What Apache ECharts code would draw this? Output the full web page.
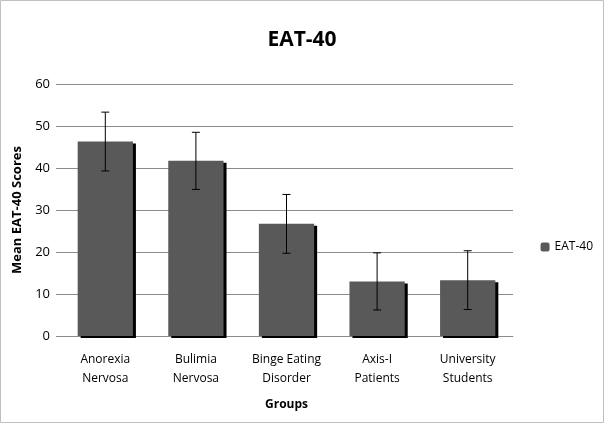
<!DOCTYPE html>
<html><head><meta charset="utf-8">
<script src="https://cdn.jsdelivr.net/npm/echarts@6/dist/echarts.min.js"></script>
<style>html,body{margin:0;padding:0;background:#fff}#c{width:604px;height:423px}</style>
</head><body><div id="c"></div>
<script>
const categories = ['Anorexia\nNervosa','Bulimia\nNervosa','Binge Eating\nDisorder','Axis-I\nPatients','University\nStudents'];
const means = [46.3, 41.7, 26.7, 13.0, 13.3];
const errors = [7.0, 6.8, 7.0, 6.8, 7.0];
const yTicks = [0, 10, 20, 30, 40, 50, 60];

const chart = echarts.init(document.getElementById('c'), null, {renderer:'canvas'});
const font = '"Open Sans", "Liberation Sans", sans-serif';
chart.setOption({
  animation:false,
  graphic:[{type:'rect', shape:{x:0.5,y:0.5,width:603,height:422}, style:{fill:'none', stroke:'#bfbfbf', lineWidth:1}}],
  title:{text:'EAT-40', left:'center', top:25, textStyle:{fontFamily:font, fontSize:21, fontWeight:'bold', color:'#000'}},
  legend:{right:6, top:236, orient:'vertical', itemWidth:9, itemHeight:9, itemGap:0,
    textStyle:{fontFamily:font, fontSize:12, color:'#000'}, data:['EAT-40']},
  grid:{left:60, right:91, top:84, bottom:87, containLabel:false},
  xAxis:{type:'category', data:categories,
    axisLine:{lineStyle:{color:'#8c8c8c'}}, axisTick:{show:false},
    axisLabel:{fontFamily:font, fontSize:12, color:'#000', margin:14, lineHeight:19},
    name:'Groups', nameLocation:'middle', nameGap:63,
    nameTextStyle:{fontFamily:font, fontSize:12, fontWeight:'bold', color:'#000'}},
  yAxis:{type:'value', min:yTicks[0], max:yTicks[yTicks.length-1], interval:10,
    axisLine:{show:false}, axisTick:{show:true, length:4, lineStyle:{color:'#8c8c8c'}},
    splitLine:{lineStyle:{color:'#8c8c8c'}},
    axisLabel:{fontFamily:font, fontSize:13, color:'#000', margin:10},
    name:'Mean EAT-40 Scores', nameLocation:'middle', nameGap:34,
    nameTextStyle:{fontFamily:font, fontSize:13, fontWeight:'bold', color:'#000'}},
  series:[
    {name:'EAT-40', type:'bar', data:means, barWidth:'61%',
      itemStyle:{color:'#595959', shadowColor:'#000', shadowBlur:0, shadowOffsetX:3, shadowOffsetY:2}},
    {name:'err', type:'custom', z:10,
      data:means.map((m,i)=>[i, m-errors[i], m+errors[i]]),
      renderItem:function(params, api){
        const x = api.coord([api.value(0), 0])[0];
        const lo = api.coord([api.value(0), api.value(1)])[1];
        const hi = api.coord([api.value(0), api.value(2)])[1];
        const st = {stroke:'#000', lineWidth:1};
        return {type:'group', children:[
          {type:'line', shape:{x1:x, y1:lo, x2:x, y2:hi}, style:st},
          {type:'line', shape:{x1:x-4, y1:lo, x2:x+4, y2:lo}, style:st},
          {type:'line', shape:{x1:x-4, y1:hi, x2:x+4, y2:hi}, style:st}
        ]};
      }}
  ]
});
</script></body></html>
